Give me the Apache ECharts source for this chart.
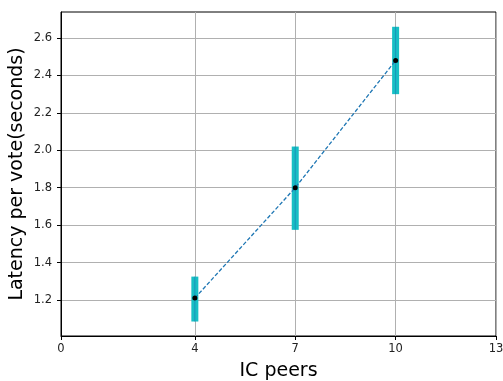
<!DOCTYPE html>
<html>
<head>
<meta charset="utf-8">
<script src="https://cdn.jsdelivr.net/npm/echarts@6/dist/echarts.min.js"></script>
<style>
  html, body { margin: 0; padding: 0; background: #fff; }
  #chart { width: 503px; height: 381px; }
</style>
</head>
<body>
<div id="chart"></div>
<script>
// values
const peers = [4, 7, 10]
const latency = [1.21, 1.80, 2.48]
const errLow = [1.085, 1.575, 2.30]
const errHigh = [1.325, 2.02, 2.66]
const xTicks = [0, 4, 7, 10, 13]
const yTicks = [1.2, 1.4, 1.6, 1.8, 2.0, 2.2, 2.4, 2.6]

const font = 'DejaVu Sans'
const myChart = echarts.init(document.getElementById('chart'), null, {renderer: 'canvas'})

const option = {
  animation: false,
  backgroundColor: '#fff',
  grid: {
    left: 61, right: 7, top: 12, bottom: 45,
    outerBoundsMode: 'none',
    containLabel: false,
    show: true, borderColor: '#000', borderWidth: 1
  },
  xAxis: {
    type: 'value',
    min: 0,
    max: 13,
    name: 'IC peers',
    nameLocation: 'middle',
    nameGap: 26,
    nameMoveOverlap: false,
    nameTextStyle: {fontFamily: font, fontSize: 19, color: '#000'},
    axisLine: {show: true, onZero: false, lineStyle: {color: '#000', width: 1}},
    axisTick: {show: true, length: 4, customValues: xTicks, lineStyle: {color: '#000'}},
    axisLabel: {
      customValues: xTicks,
      fontFamily: font, fontSize: 11.5, color: '#222', margin: 7,
      formatter: v => v.toFixed(0)
    },
    splitLine: {show: true, lineStyle: {color: '#b0b0b0', width: 1}}
  },
  yAxis: {
    type: 'value',
    min: 1.0076,
    max: 2.739,
    name: 'Latency per vote(seconds)',
    nameLocation: 'middle',
    nameGap: 34,
    nameMoveOverlap: false,
    nameTextStyle: {fontFamily: font, fontSize: 19, color: '#000'},
    axisLine: {show: true, onZero: false, lineStyle: {color: '#000', width: 1}},
    axisTick: {show: true, length: 4, customValues: yTicks, lineStyle: {color: '#000'}},
    axisLabel: {
      customValues: yTicks,
      fontFamily: font, fontSize: 11.5, color: '#222', margin: 9,
      formatter: v => v.toFixed(1)
    },
    splitLine: {show: true, lineStyle: {color: '#b0b0b0', width: 1}}
  },
  series: [
    {
      type: 'custom',
      z: 2,
      data: peers.map((p, i) => [p, errLow[i], errHigh[i]]),
      renderItem: (params, api) => {
        const lo = api.coord([api.value(0), api.value(1)])
        const hi = api.coord([api.value(0), api.value(2)])
        return {
          type: 'group',
          children: [
            {
              type: 'rect',
              shape: {x: lo[0] - 3.5, y: hi[1], width: 7, height: lo[1] - hi[1]},
              style: {fill: '#17bfc4'}
            },
            {
              type: 'line',
              shape: {x1: lo[0], y1: hi[1], x2: lo[0], y2: lo[1]},
              style: {stroke: '#1f77b4', lineWidth: 1, opacity: 0.6}
            }
          ]
        }
      }
    },
    {
      type: 'line',
      z: 3,
      data: peers.map((p, i) => [p, latency[i]]),
      lineStyle: {color: '#1f77b4', width: 1.3, type: [4, 2]},
      symbol: 'circle',
      symbolSize: 5,
      itemStyle: {color: '#000'}
    }
  ]
}

myChart.setOption(option)
</script>
</body>
</html>
